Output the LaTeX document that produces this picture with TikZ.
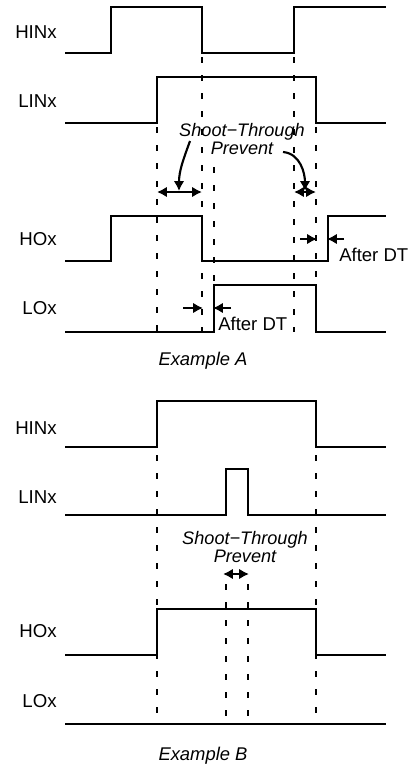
\documentclass[tikz,border=0pt]{standalone}
\usepackage{fontspec}
\setmainfont{Liberation Sans}
\usetikzlibrary{arrows.meta}

\begin{document}
\begin{tikzpicture}[
        x=0.75pt, y=-0.75pt,
        wave/.style={line width=1.7pt, line join=miter},
        guide/.style={line width=0.8pt, dash pattern=on 4.5pt off 9pt},
        sig/.style={anchor=base east, inner sep=0pt, font=\fontsize{14}{16}\selectfont},
        note/.style={anchor=base west, inner sep=0pt, font=\fontsize{13.9}{16}\selectfont},
        title/.style={anchor=base, inner sep=0pt, font=\fontsize{13.8}{16}\selectfont\itshape},
        prevent/.style={anchor=base, align=center, inner sep=0pt, font=\fontsize{13.6}{13.5}\selectfont\itshape},
        arrow/.style={-{Latex[length=2.6mm, width=2.8mm]}, line width=1.6pt},
        span/.style={{Latex[length=2.6mm, width=2.8mm]}-{Latex[length=2.6mm, width=2.8mm]}, line width=1.6pt}
    ]
        \useasboundingbox (0,0) rectangle (410,765);

        % Example A
        \node[sig] (hinA) at (57,38) {HINx};
        \node[sig] (linA) at (57,107) {LINx};
        \node[sig] (hoA) at (57,245) {HOx};
        \node[sig] (loA) at (57,314) {LOx};

        \draw[wave] (65,53) -- (111,53) -- (111,7) -- (202,7) -- (202,53) -- (294,53) -- (294,7) -- (386,7);
        \draw[wave] (65,123) -- (157,123) -- (157,77) -- (316,77) -- (316,123) -- (386,123);
        \draw[wave] (65,261) -- (111,261) -- (111,216) -- (202,216) -- (202,261) -- (328,261) -- (328,216) -- (386,216);
        \draw[wave] (65,332) -- (214,332) -- (214,285) -- (316,285) -- (316,332) -- (386,332);

        \draw[guide] (157,127) -- (157,332);
        \draw[guide] (202,57) -- (202,332);
        \draw[guide] (214,167) -- (214,285);
        \draw[guide] (294,57) -- (294,332);
        \draw[guide] (316,127) -- (316,332);

        \node[prevent] (stA) at (242,154) {Shoot−Through\\Prevent};
        \coordinate (stAl) at (190,141);
        \coordinate (stAr) at (283,152);
        \coordinate (dbA1) at (157,192);
        \coordinate (dbA2) at (202,192);
        \coordinate (dbA3) at (294,192);
        \coordinate (dbA4) at (316,192);
        \draw[span] (dbA1) -- (dbA2);
        \draw[span] (dbA3) -- (dbA4);
        \draw[arrow] (stAl) to[out=-110, in=90] (179,191);
        \draw[arrow] (stAr) to[out=-5, in=90] (305,191);

        \coordinate (dtH1) at (300,239);
        \coordinate (dtH2) at (344,239);
        \draw[arrow] (dtH1) -- (317,239);
        \draw[arrow] (dtH2) -- (327,239);
        \node[note] (dtHO) at (339,261) {After DT};

        \coordinate (dtL1) at (183,308);
        \coordinate (dtL2) at (231,308);
        \draw[arrow] (dtL1) -- (203,308);
        \draw[arrow] (dtL2) -- (213,308);
        \node[note] (dtLO) at (218,330) {After DT};

        \node[title] (exA) at (203,365) {Example A};

        % Example B
        \node[sig] (hinB) at (57,434) {HINx};
        \node[sig] (linB) at (57,503) {LINx};
        \node[sig] (hoB) at (57,637) {HOx};
        \node[sig] (loB) at (57,707) {LOx};

        \draw[wave] (65,447) -- (157,447) -- (157,401) -- (316,401) -- (316,447) -- (386,447);
        \draw[wave] (65,515) -- (226,515) -- (226,469) -- (248,469) -- (248,515) -- (386,515);
        \draw[wave] (65,655) -- (157,655) -- (157,609) -- (316,609) -- (316,655) -- (386,655);
        \draw[wave] (65,724) -- (386,724);

        \draw[guide] (157,455) -- (157,724);
        \draw[guide] (316,455) -- (316,724);
        \draw[guide] (226,584) -- (226,724);
        \draw[guide] (248,584) -- (248,724);

        \node[prevent] (stB) at (245,562) {Shoot−Through\\Prevent};
        \coordinate (dbB1) at (223,574);
        \coordinate (dbB2) at (249,574);
        \draw[span] (dbB1) -- (dbB2);

        \node[title] (exB) at (203,760) {Example B};
    \end{tikzpicture}
\end{document}
